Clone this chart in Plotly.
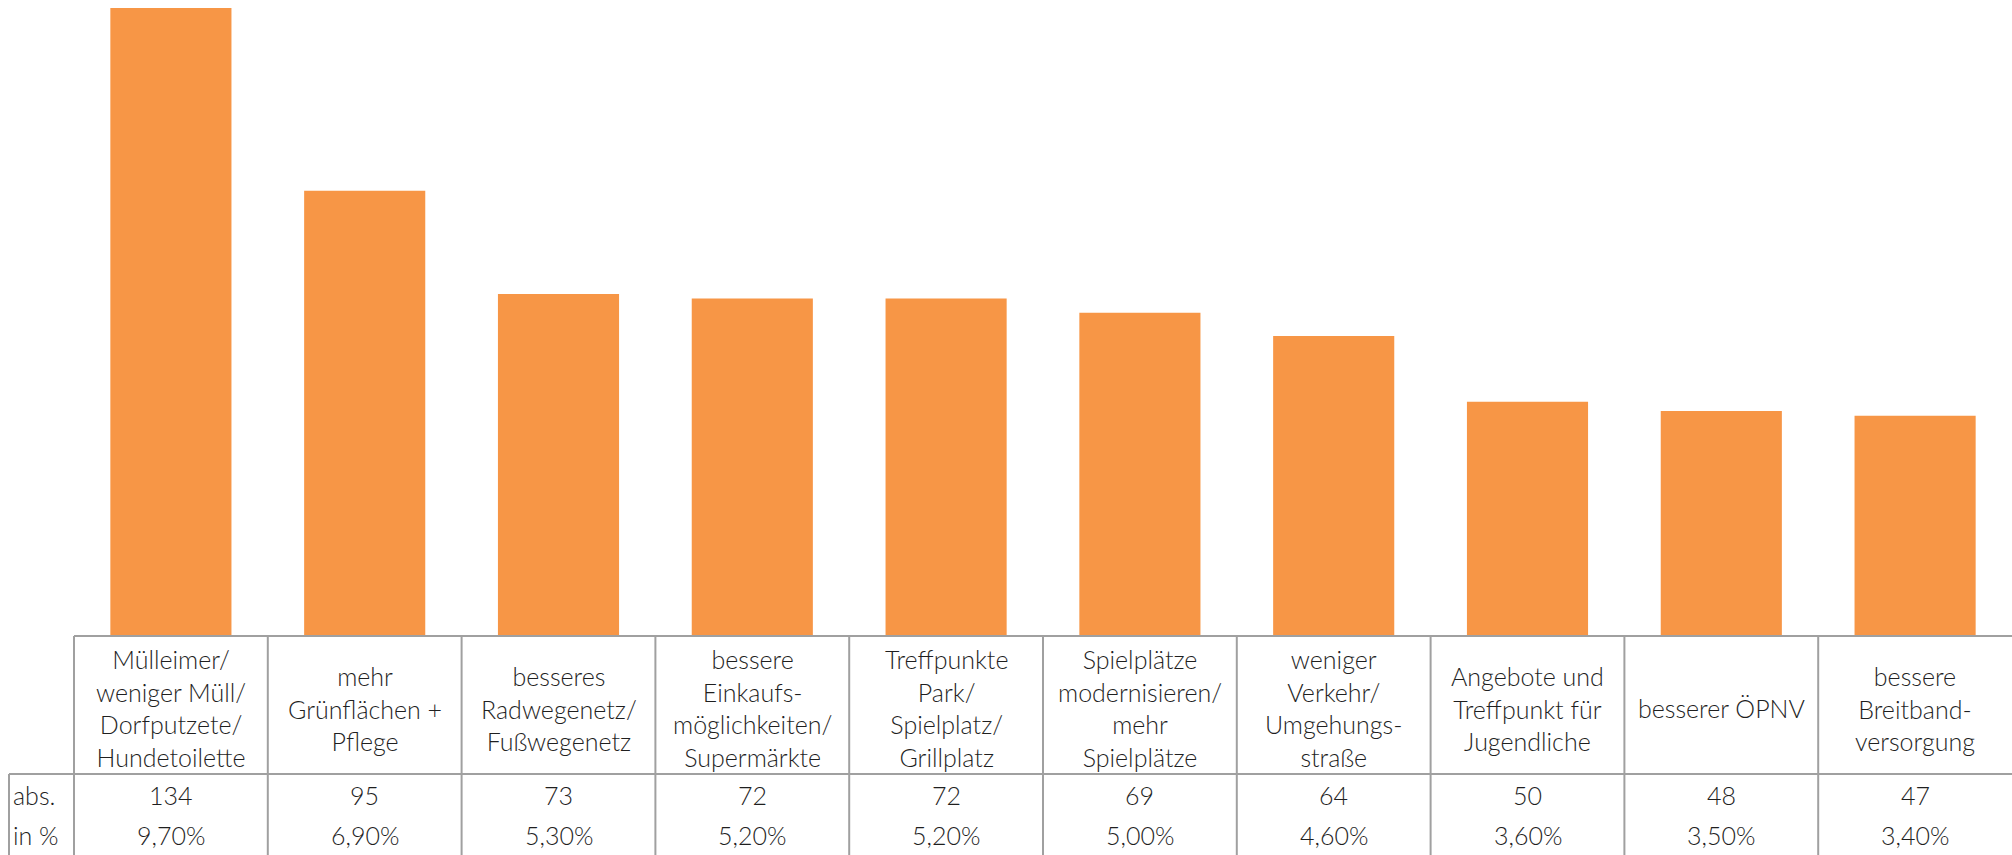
import plotly.graph_objects as go

# Survey answers: what should be improved in the village
categories = [
    "Mülleimer/<br>weniger Müll/<br>Dorfputzete/<br>Hundetoilette",
    "mehr<br>Grünflächen +<br>Pflege",
    "besseres<br>Radwegenetz/<br>Fußwegenetz",
    "bessere<br>Einkaufs-<br>möglichkeiten/<br>Supermärkte",
    "Treffpunkte<br>Park/<br>Spielplatz/<br>Grillplatz",
    "Spielplätze<br>modernisieren/<br>mehr<br>Spielplätze",
    "weniger<br>Verkehr/<br>Umgehungs-<br>straße",
    "Angebote und<br>Treffpunkt für<br>Jugendliche",
    "besserer ÖPNV",
    "bessere<br>Breitband-<br>versorgung",
]
abs_values = [134, 95, 73, 72, 72, 69, 64, 50, 48, 47]
pct_values = [9.7, 6.9, 5.3, 5.2, 5.2, 5.0, 4.6, 3.6, 3.5, 3.4]
row_labels = ["abs.", "in %"]

W, H = 2012, 855
FONT = "Lato"
TEXT = "#1f1f1f"
GRID = "#a0a0a0"
BAR = "#F79646"

n = len(categories)
top_px, base_px = 8, 636          # pixel rows of the tallest bar top and the baseline
label_col_px = 74                 # width of the row-label column on the left
col_px = (W - label_col_px) / n   # width of one category column
unit_px = (base_px - top_px) / max(abs_values)


def y_at(px):
    """Convert a pixel row into y-axis units (0 at the baseline)."""
    return (base_px - px) / unit_px


def x_at(px):
    """Convert a pixel column into x-axis units (category index)."""
    return -0.5 + (px - label_col_px) / col_px


x_min, x_max = x_at(0), n - 0.5
y_min, y_max = y_at(H), y_at(0)

fig = go.Figure(
    go.Bar(
        x=list(range(n)),
        y=abs_values,
        width=0.625,
        marker=dict(color=BAR, line=dict(width=0)),
        hoverinfo="skip",
    )
)

shapes = []
line = dict(color=GRID, width=2)
sep_y = y_at(774)
label_left = x_at(9)

# table frame
shapes.append(dict(type="line", x0=-0.5, x1=x_max, y0=0, y1=0, line=line))
shapes.append(dict(type="line", x0=label_left, x1=x_max, y0=sep_y, y1=sep_y, line=line))
shapes.append(dict(type="line", x0=label_left, x1=label_left, y0=sep_y, y1=y_min, line=line))
for i in range(n):
    shapes.append(dict(type="line", x0=i - 0.5, x1=i - 0.5, y0=0, y1=y_min, line=line))

annotations = []
font = dict(family=FONT, size=25, color=TEXT, weight=300)
for i, (cat, a, p) in enumerate(zip(categories, abs_values, pct_values)):
    annotations.append(dict(x=i, y=y_at(708), text=cat, showarrow=False,
                            xanchor="center", yanchor="middle", align="center", font=font))
    annotations.append(dict(x=i, y=y_at(795), text=str(a), showarrow=False,
                            xanchor="center", yanchor="middle", font=font))
    annotations.append(dict(x=i, y=y_at(835), text=f"{p:.2f}".replace(".", ",") + "%",
                            showarrow=False, xanchor="center", yanchor="middle", font=font))
for lbl, py in zip(row_labels, (795, 835)):
    annotations.append(dict(x=x_at(11), y=y_at(py), text=lbl, showarrow=False,
                            xanchor="left", yanchor="middle", font=font))

fig.update_layout(
    width=W, height=H,
    margin=dict(l=0, r=0, t=0, b=0),
    paper_bgcolor="white", plot_bgcolor="white",
    showlegend=False,
    xaxis=dict(range=[x_min, x_max], visible=False, fixedrange=True),
    yaxis=dict(range=[y_min, y_max], visible=False, fixedrange=True),
    shapes=shapes,
    annotations=annotations,
)

fig.write_html("out.html", config={"displayModeBar": False})
